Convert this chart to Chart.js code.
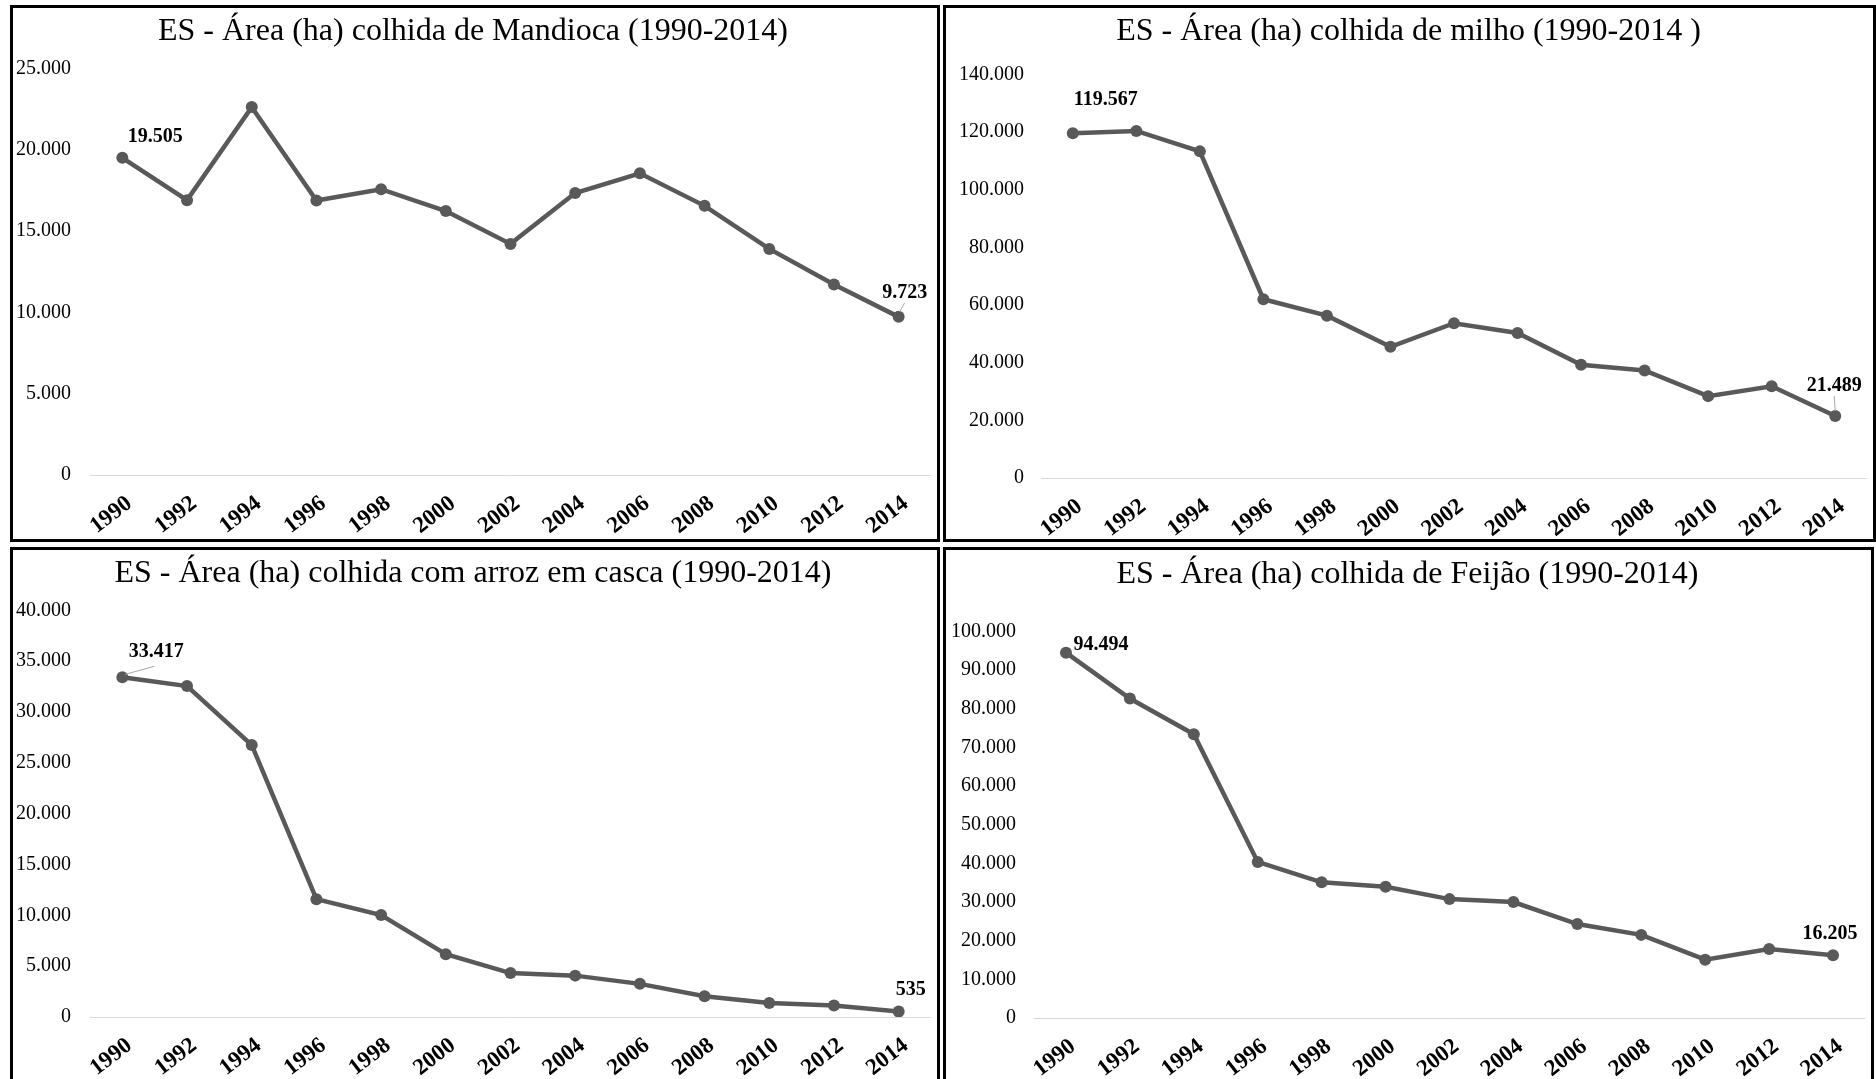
<!DOCTYPE html>
<html>
<head>
<meta charset="utf-8">
<title>ES - Área colhida (1990-2014)</title>
<script src="https://cdn.jsdelivr.net/npm/chart.js@4.4.1/dist/chart.umd.min.js"></script>
<style>
    html, body { margin: 0; padding: 0; background: #fff; overflow: hidden; }
    body { width: 1876px; height: 1079px; position: relative; }
    .panel { position: absolute; border: 3px solid #000; box-sizing: border-box; background: #fff; }
    .panel canvas { display: block; }
</style>
</head>
<body>
<div class="panel" style="left:10px; top:5px; width:930px; height:537px;"><canvas id="chart-mandioca" width="924" height="531"></canvas></div>
<div class="panel" style="left:943px; top:5px; width:933px; height:537px;"><canvas id="chart-milho" width="927" height="531"></canvas></div>
<div class="panel" style="left:10px; top:547px; width:930px; height:538px;"><canvas id="chart-arroz" width="924" height="532"></canvas></div>
<div class="panel" style="left:943px; top:547px; width:931px; height:538px;"><canvas id="chart-feijao" width="925" height="532"></canvas></div>
<script>
    var years = ['1990', '1992', '1994', '1996', '1998', '2000', '2002', '2004', '2006', '2008', '2010', '2012', '2014'];

    var mandiocaArea = [19505, 16900, 22620, 16880, 17570, 16230, 14210, 17340, 18550, 16550, 13900, 11710, 9723];
    var milhoArea = [119567, 120400, 113300, 62000, 56300, 45500, 53700, 50300, 39300, 37300, 28400, 31800, 21489];
    var arrozArea = [33417, 32560, 26760, 11590, 10030, 6170, 4320, 4070, 3260, 2050, 1370, 1130, 535];
    var feijaoArea = [94494, 82650, 73400, 40380, 35100, 33960, 30750, 29980, 24300, 21500, 15090, 17850, 16205];

    var mandiocaTicks = [0, 5000, 10000, 15000, 20000, 25000];
    var milhoTicks = [0, 20000, 40000, 60000, 80000, 100000, 120000, 140000];
    var arrozTicks = [0, 5000, 10000, 15000, 20000, 25000, 30000, 35000, 40000];
    var feijaoTicks = [0, 10000, 20000, 30000, 40000, 50000, 60000, 70000, 80000, 90000, 100000];

    var mandiocaTitle = 'ES - Área (ha) colhida de Mandioca (1990-2014)';
    var milhoTitle = 'ES - Área (ha) colhida de milho (1990-2014 )';
    var arrozTitle = 'ES - Área (ha) colhida com arroz em casca (1990-2014)';
    var feijaoTitle = 'ES - Área (ha) colhida de Feijão (1990-2014)';

    var FONT = '"Liberation Serif", "Times New Roman", serif';
    var LINE_COLOR = '#595959';

    function fmt(v){
        return String(Math.round(v)).replace(/\B(?=(\d{3})+(?!\d))/g, '.');
    }

    // labels for first and last point, with optional leader line
    var endLabels = {
        id: 'endLabels',
        afterDatasetsDraw: function(chart, args, opts){
            var meta = chart.getDatasetMeta(0);
            var data = chart.data.datasets[0].data;
            var ctx = chart.ctx;
            ctx.save();
            ctx.font = 'bold 20px ' + FONT;
            ctx.textAlign = 'center';
            ctx.textBaseline = 'middle';
            (opts.items || []).forEach(function(item){
                var pt = meta.data[item.index];
                if(!pt) return;
                var lx = pt.x + item.dx, ly = pt.y + item.dy;
                if(item.leader){
                    ctx.strokeStyle = '#a6a6a6';
                    ctx.lineWidth = 1;
                    ctx.beginPath();
                    ctx.moveTo(pt.x + item.lead[0], pt.y + item.lead[1]);
                    ctx.lineTo(lx + item.lead[2], ly + item.lead[3]);
                    ctx.stroke();
                }
                ctx.fillStyle = '#000';
                ctx.fillText(fmt(data[item.index]), lx, ly);
            });
            ctx.restore();
        }
    };

    function makeChart(id, title, values, ticks, lay){
        var ctx = document.getElementById(id).getContext('2d');
        return new Chart(ctx, {
            type: 'line',
            data: {
                labels: years,
                datasets: [{
                    data: values,
                    borderColor: LINE_COLOR,
                    backgroundColor: LINE_COLOR,
                    borderWidth: 4.5,
                    pointRadius: 6,
                    pointBorderWidth: 0,
                    pointBackgroundColor: LINE_COLOR,
                    tension: 0,
                    fill: false
                }]
            },
            options: {
                responsive: false,
                maintainAspectRatio: false,
                animation: false,
                layout: { padding: { left: 0, right: lay.padRight, top: 0, bottom: 0 } },
                plugins: {
                    legend: { display: false },
                    tooltip: { enabled: false },
                    title: {
                        display: true,
                        text: title,
                        color: '#000',
                        font: { family: FONT, size: 32, weight: 'normal' },
                        padding: { top: lay.titleTop, bottom: lay.titleBottom }
                    },
                    endLabels: { items: lay.labels }
                },
                scales: {
                    x: {
                        type: 'category',
                        offset: true,
                        grid: { display: false },
                        border: { display: false },
                        ticks: {
                            color: '#000',
                            font: { family: FONT, size: 23, weight: 'bold' },
                            minRotation: 38,
                            maxRotation: 38,
                            autoSkip: false,
                            labelOffset: 7,
                            padding: lay.xPad
                        },
                        afterFit: function(scale){ scale.height = lay.xHeight; }
                    },
                    y: {
                        min: ticks[0],
                        max: ticks[ticks.length - 1],
                        grid: {
                            drawTicks: false,
                            lineWidth: 1,
                            color: function(c){
                                return (c.tick && c.tick.value === 0) ? '#d9d9d9' : 'rgba(0,0,0,0)';
                            }
                        },
                        border: { display: false },
                        ticks: {
                            stepSize: ticks[1] - ticks[0],
                            color: '#000',
                            padding: lay.yPad,
                            font: { family: FONT, size: 20 },
                            callback: function(v){ return fmt(v); }
                        },
                        afterFit: function(scale){ scale.width = lay.yWidth; }
                    }
                }
            },
            plugins: [endLabels]
        });
    }

    makeChart('chart-mandioca', mandiocaTitle, mandiocaArea, mandiocaTicks, {
        yWidth: 77, xHeight: 64, padRight: 4, titleTop: 4, titleBottom: 18, yPad: 19, xPad: 7,
        labels: [
            { index: 0, dx: 33, dy: -21 },
            { index: 12, dx: 6, dy: -24, leader: true, lead: [1, -5, 0, 10] }
        ]
    });

    makeChart('chart-milho', milhoTitle, milhoArea, milhoTicks, {
        yWidth: 95, xHeight: 61, padRight: 2, titleTop: 4, titleBottom: 24, yPad: 17, xPad: 7,
        labels: [
            { index: 0, dx: 33, dy: -33 },
            { index: 12, dx: -1, dy: -30, leader: true, lead: [0, -5, 0, 10] }
        ]
    });

    makeChart('chart-arroz', arrozTitle, arrozArea, arrozTicks, {
        yWidth: 77, xHeight: 65, padRight: 4, titleTop: 4, titleBottom: 18, yPad: 19, xPad: 7,
        labels: [
            { index: 0, dx: 34, dy: -25, leader: true, lead: [3, -3, -2, 14] },
            { index: 12, dx: 12, dy: -22 }
        ]
    });

    makeChart('chart-feijao', feijaoTitle, feijaoArea, feijaoTicks, {
        yWidth: 88, xHeight: 64, padRight: 2, titleTop: 5, titleBottom: 38, yPad: 18, xPad: 7,
        labels: [
            { index: 0, dx: 35, dy: -8 },
            { index: 12, dx: -3, dy: -22 }
        ]
    });
</script>
</body>
</html>
